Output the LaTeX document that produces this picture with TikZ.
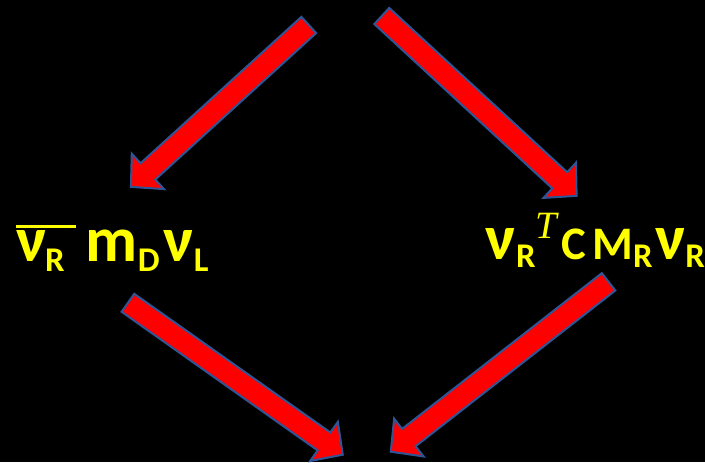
\documentclass[tikz,border=0pt]{standalone}
\usepackage{fontspec}
\setmainfont{Carlito}
\newfontfamily\supfont{Liberation Serif}
\usetikzlibrary{calc}

\definecolor{arrowred}{RGB}{255,0,0}
\definecolor{arrowblue}{RGB}{47,85,151}
\definecolor{termyellow}{RGB}{255,255,0}

\newcommand\nusize{\fontsize{48}{48}\selectfont}
\newcommand\capsize{\fontsize{35}{35}\selectfont}
\newcommand\subsize{\fontsize{26}{26}\selectfont}
\newcommand\supsize{\fontsize{29}{29}\selectfont}
\newcommand\lowsub[2]{\raisebox{#1}{\subsize #2}}

% block arrow from tail #1 to tip #2
\newcommand\blockarrow[2]{%
  \coordinate (hb) at ($(#2)!17.25pt!(#1)$);
  \filldraw[block] ($(#1)!8.25pt!90:(#2)$) -- ($(hb)!8.25pt!-90:(#1)$)
    -- ($(hb)!18pt!-90:(#1)$) -- (#2) -- ($(hb)!18pt!90:(#1)$)
    -- ($(hb)!8.25pt!90:(#1)$) -- ($(#1)!8.25pt!-90:(#2)$) -- cycle;
}

\begin{document}
\begin{tikzpicture}[x=0.75pt,y=-0.75pt,
  block/.style={fill=arrowred,draw=arrowblue,line width=1.5pt,line join=miter},
  term/.style={text=termyellow,font=\bfseries\nusize,inner sep=0pt,anchor=base west}]

% Background
\fill[black] (0,0) rectangle (705,462);

% The two mass terms
\node[term] (dirac) at (16,262) {\rlap{\rule[25.2pt]{45pt}{2.25pt}}ν\kern-1pt\lowsub{-7.5pt}{R}\hspace{16pt}m\lowsub{-7.5pt}{D}\kern3pt ν\lowsub{-7.5pt}{L}};
\node[term] (majorana) at (486,260) {ν\lowsub{-6pt}{R}\raisebox{16pt}{\supsize\supfont\mdseries\itshape T}\hspace{3pt}{\capsize C\hspace{5pt}M}\lowsub{-6pt}{R}\hspace{2pt}ν\lowsub{-6pt}{R}};

% Arrow end points
\coordinate (tail-tl) at (309,25);
\coordinate (tip-tl) at (131,187);
\coordinate (tail-tr) at (382,16);
\coordinate (tip-tr) at (577,196);
\coordinate (tail-bl) at (128,303);
\coordinate (tip-bl) at (343,455);
\coordinate (tail-br) at (609,282);
\coordinate (tip-br) at (391,452);

% Draw the block arrows
\blockarrow{tail-tl}{tip-tl}
\blockarrow{tail-tr}{tip-tr}
\blockarrow{tail-bl}{tip-bl}
\blockarrow{tail-br}{tip-br}

\end{tikzpicture}
\end{document}
